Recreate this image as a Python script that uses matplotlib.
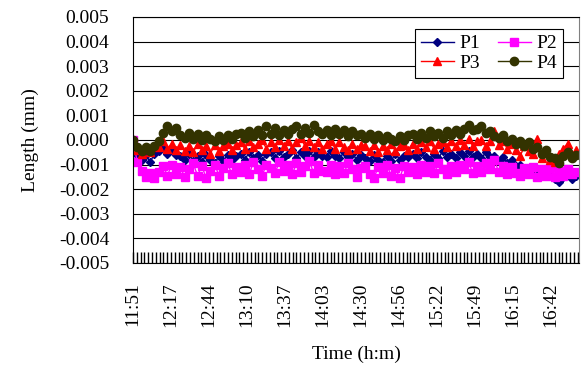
import numpy as np
import matplotlib
matplotlib.use("Agg")
import matplotlib.pyplot as plt
from matplotlib.ticker import MultipleLocator, FormatStrFormatter

plt.rcParams['font.family'] = ['Liberation Serif', 'DejaVu Serif']
plt.rcParams['axes.unicode_minus'] = False

# time axis: minutes after 11:51, one reading every 3 minutes
minutes = np.arange(0, 310, 3)
tick_labels = ["11:51", "12:17", "12:44", "13:10", "13:37", "14:03",
               "14:30", "14:56", "15:22", "15:49", "16:15", "16:42"]
tick_step = 26.5  # minutes between labelled ticks

# readings in micrometres (1e-3 mm)
p1 = [-0.1, -0.6, -0.8, -0.6, -0.9, -0.55,
      -0.45, -0.3, -0.55, -0.35, -0.6,
      -0.65, -0.8, -0.55, -0.85, -0.65, -0.9, -0.6, -0.8, -0.95, -0.65, -0.85, -0.6, -0.8, -0.65,
      -0.55, -0.8, -0.5, -0.75, -0.6, -0.85, -0.55,
      -0.5, -0.75, -0.45, -0.7, -0.55, -0.4, -0.75, -0.5, -0.65, -0.45, -0.7, -0.5, -0.65,
      -0.7, -0.45, -0.65, -0.75, -0.5, -0.7, -0.55, -0.8, -0.6,
      -0.75, -0.85, -0.6, -0.8, -0.9, -0.65, -0.85, -0.55, -0.8, -0.65, -0.7,
      -0.55, -0.75, -0.5, -0.7, -0.8, -0.55, -0.75, -0.45, -0.7, -0.55, -0.75, -0.5,
      -0.65, -0.45, -0.7, -0.55, -0.75, -0.5, -0.7,
      -0.65, -0.85, -0.7, -0.95, -0.8, -1.05,
      -1.0, -1.15, -1.25, -1.1, -1.35, -1.2, -1.45,
      -1.4, -1.6, -1.7, -1.5,
      -1.35, -1.6, -1.45]
p2 = [0.0, -0.9, -1.25, -1.5, -1.35, -1.55,
      -1.3, -1.05, -1.45, -1.0, -1.4,
      -1.1, -1.5, -1.2, -0.95, -1.45, -1.05, -1.55, -1.25, -1.0, -1.45, -1.15, -0.95, -1.4, -1.1,
      -1.3, -1.0, -1.4, -0.9, -1.2, -1.45, -1.0,
      -1.15, -1.35, -0.9, -1.25, -1.0, -1.4, -0.95, -1.3, -1.05, -0.85, -1.35, -1.0, -1.25,
      -1.3, -1.0, -1.4, -1.05, -1.35, -0.95, -1.2, -1.5, -1.15,
      -1.05, -1.4, -1.55, -1.1, -1.35, -1.0, -1.45, -1.15, -1.55, -1.05, -1.3,
      -1.1, -1.4, -1.0, -1.3, -1.05, -1.35, -0.95, -1.2, -1.4, -1.05, -1.3, -1.0,
      -1.2, -0.9, -1.35, -1.05, -1.3, -0.95, -1.2,
      -0.8, -1.3, -1.05, -1.4, -1.1, -1.35,
      -1.45, -1.15, -1.4, -1.1, -1.5, -1.2, -1.45,
      -1.15, -1.5, -1.25, -1.45,
      -1.2, -1.4, -1.3]
p3 = [0.0, -0.4, -0.55, -0.3, -0.5, -0.25,
      -0.3, -0.05, -0.35, -0.15, -0.4,
      -0.2, -0.45, -0.25, -0.5, -0.15, -0.4, -0.25, -0.55, -0.2, -0.45, -0.25, -0.15, -0.4, -0.2,
      -0.1, -0.35, -0.05, -0.3, -0.15, 0.0, -0.35,
      -0.1, -0.3, 0.0, -0.25, -0.05, -0.35, -0.1, 0.1, -0.25, -0.05, -0.3, -0.1, -0.35,
      -0.15, -0.05, -0.35, -0.1, -0.3, -0.4, -0.15, -0.35, -0.2,
      -0.25, -0.45, -0.2, -0.5, -0.25, -0.4, -0.15, -0.45, -0.25, -0.2, -0.4,
      -0.15, -0.35, -0.1, -0.3, -0.05, -0.35, -0.15, -0.1, -0.3, -0.05, -0.25, 0.0,
      -0.2, 0.05, -0.25, -0.05, 0.0, -0.25, -0.05,
      0.35, -0.2, -0.05, -0.35, -0.15, -0.4,
      -0.65, -0.25, -0.45, -0.55, 0.05, -0.75, -0.5,
      -0.8, -0.9, -0.55, -0.35,
      -0.15, -0.6, -0.4]
p4 = [0.0, -0.3, -0.45, -0.3, -0.45, -0.25,
      -0.05, 0.3, 0.55, 0.35, 0.5,
      0.2, 0.1, 0.3, 0.05, 0.25, 0.0, 0.2, 0.05, -0.05, 0.15, 0.0, 0.2, 0.05, 0.25,
      0.3, 0.1, 0.35, 0.15, 0.4, 0.2, 0.55,
      0.25, 0.5, 0.2, 0.4, 0.25, 0.45, 0.55, 0.25, 0.5, 0.3, 0.6, 0.35, 0.25,
      0.4, 0.2, 0.45, 0.25, 0.4, 0.15, 0.35, 0.2, 0.25,
      0.1, 0.25, 0.05, 0.2, 0.0, 0.15, 0.05, -0.05, 0.15, 0.0, 0.2,
      0.25, 0.05, 0.3, 0.1, 0.35, 0.15, 0.3, 0.1, 0.35, 0.2, 0.4, 0.25,
      0.45, 0.6, 0.4, 0.45, 0.55, 0.3, 0.35,
      0.15, 0.1, 0.2, -0.05, 0.05, -0.15,
      -0.05, -0.25, -0.1, -0.35, -0.3, -0.55, -0.4,
      -0.7, -0.75, -0.95, -0.65,
      -0.5, -0.75, -0.6]

fig = plt.figure(figsize=(5.84, 3.65), dpi=100)
ax = fig.add_axes([0.2277, 0.2795, 0.7637, 0.674])

l1, = ax.plot(minutes, np.array(p1) / 1000, color="#000080", marker="D", ms=4, lw=1, label="P1")
l2, = ax.plot(minutes, np.array(p2) / 1000, color="#FF00FF", marker="s", ms=6, lw=1, label="P2")
l3, = ax.plot(minutes, np.array(p3) / 1000, color="#FF0000", marker="^", ms=6, lw=1, label="P3")
l4, = ax.plot(minutes, np.array(p4) / 1000, color="#333300", marker="o", ms=6, lw=1, label="P4")

ax.set_ylim(-0.005, 0.005)
ax.set_xlim(0, 311)
ax.yaxis.set_major_locator(MultipleLocator(0.001))
ax.yaxis.set_major_formatter(FormatStrFormatter("%.3f"))
ax.grid(axis="y", color="k", lw=0.8)
ax.set_axisbelow(True)

ax.set_xticks(np.arange(len(tick_labels)) * tick_step)
ax.set_xticklabels(tick_labels, rotation=90)
ax.set_xticks(np.arange(0, 311, tick_step / 10), minor=True)
ax.tick_params(axis="x", which="both", direction="in", length=8, width=1, pad=14, labelsize=14)
ax.tick_params(axis="y", length=0, pad=17, labelsize=14)

for s in ["left", "bottom", "top"]:
    ax.spines[s].set_color("k")
ax.spines["right"].set_color("#808080")

ax.set_ylabel("Length (mm)", fontsize=14, labelpad=14)
ax.set_xlabel("Time (h:m)", fontsize=14, labelpad=13)

# column-major filling: order handles so rows read P1 P2 / P3 P4
leg = ax.legend([l1, l3, l2, l4], ["P1", "P3", "P2", "P4"], ncol=2, loc="upper left",
                bbox_to_anchor=(0.632, 0.951), fontsize=14,
                frameon=True, fancybox=False, edgecolor="k", framealpha=1,
                handlelength=1.7, columnspacing=0.9, handletextpad=0.3,
                borderpad=0.3, labelspacing=0.1, borderaxespad=0)
leg.get_frame().set_linewidth(0.8)

fig.savefig("out.png", dpi=100)
